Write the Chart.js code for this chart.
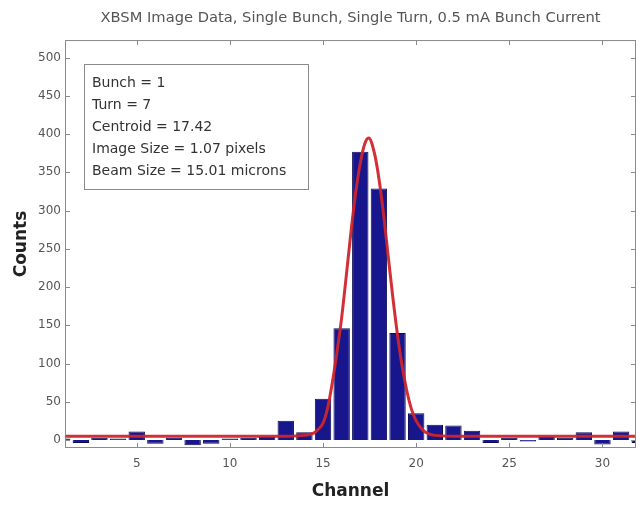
<!DOCTYPE html>
<html>
<head>
<meta charset="utf-8">
<script src="https://cdn.jsdelivr.net/npm/chart.js@4/dist/chart.umd.min.js"></script>
<style>
  html, body { margin: 0; padding: 0; background: #fff; overflow: hidden; }
  #wrap { width: 636px; height: 505px; position: relative; }
</style>
</head>
<body>
<div id="wrap"><canvas id="c" width="636" height="505"></canvas></div>
<script>
// Histogram of detector counts per channel
const channels = [1, 2, 3, 4, 5, 6, 7, 8, 9, 10, 11, 12, 13, 14, 15, 16,
                  17, 18, 19, 20, 21, 22, 23, 24, 25, 26, 27, 28, 29, 30, 31, 32];
const counts   = [2, -4, 3, 2, 11, -5, 3, -7, -5, 2, 3, 4, 25, 10, 54, 146,
                  377, 329, 140, 35, 20, 19, 12, -4, 3, -2, 4, 3, 10, -6, 11, -4];

// Gaussian fit curve samples
const fitChannels = [1, 13, 14, 14.5, 14.75, 15, 15.25, 15.5, 15.75, 16, 16.25, 16.5, 16.75,
                     17, 17.25, 17.45, 17.75, 18, 18.25, 18.5, 18.75, 19, 19.25, 19.5,
                     19.75, 20, 20.25, 20.5, 21, 22, 33];
const fitCounts   = [5, 5, 6, 9, 14, 22, 42, 75, 115, 160, 215, 272, 323,
                     362, 388, 395, 376, 342, 295, 240, 186, 137, 96, 64,
                     40, 25, 16, 10, 6, 5, 5];

const xTickValues = [5, 10, 15, 20, 25, 30];
const yTickValues = [0, 50, 100, 150, 200, 250, 300, 350, 400, 450, 500];

const titleText = 'XBSM Image Data, Single Bunch, Single Turn, 0.5 mA Bunch Current';
const xTitle = 'Channel';
const yTitle = 'Counts';
const infoLines = ['Bunch = 1', 'Turn = 7', 'Centroid = 17.42',
                   'Image Size = 1.07 pixels', 'Beam Size = 15.01 microns'];

const FONT = "'DejaVu Sans', 'Liberation Sans', sans-serif";

// Box frame with inward ticks on all four sides
const framePlugin = {
  id: 'frame',
  afterDatasetsDraw(chart) {
    const { ctx, chartArea: a, scales: { x, y } } = chart;
    ctx.save();
    ctx.strokeStyle = '#8a8a8a';
    ctx.lineWidth = 1;
    ctx.strokeRect(a.left + 0.5, a.top + 0.5, a.right - a.left - 1, a.bottom - a.top - 1);
    ctx.beginPath();
    const len = 5;
    xTickValues.forEach(v => {
      const px = Math.round(x.getPixelForValue(v)) + 0.5;
      ctx.moveTo(px, a.bottom); ctx.lineTo(px, a.bottom - len);
      ctx.moveTo(px, a.top); ctx.lineTo(px, a.top + len);
    });
    yTickValues.forEach(v => {
      const py = Math.round(y.getPixelForValue(v)) + 0.5;
      ctx.moveTo(a.left, py); ctx.lineTo(a.left + len, py);
      ctx.moveTo(a.right, py); ctx.lineTo(a.right - len, py);
    });
    ctx.stroke();
    ctx.restore();
  }
};

// Fit summary text box
const infoPlugin = {
  id: 'info',
  afterDraw(chart) {
    const { ctx } = chart;
    ctx.save();
    ctx.fillStyle = '#ffffff';
    ctx.fillRect(84, 64, 224, 125);
    ctx.strokeStyle = '#8a8a8a';
    ctx.lineWidth = 1;
    ctx.strokeRect(84.5, 64.5, 224, 125);
    ctx.fillStyle = '#333333';
    ctx.font = '14px ' + FONT;
    ctx.textBaseline = 'middle';
    ctx.textAlign = 'left';
    infoLines.forEach((t, i) => ctx.fillText(t, 92, 83 + i * 22.2));
    ctx.restore();
  }
};

new Chart(document.getElementById('c'), {
  data: {
    datasets: [
      {
        type: 'line',
        data: fitChannels.map((c, i) => ({ x: c, y: fitCounts[i] })),
        borderColor: 'rgba(208, 36, 44, 0.95)',
        borderWidth: 3,
        pointRadius: 0,
        cubicInterpolationMode: 'monotone',
        order: 0
      },
      {
        type: 'bar',
        data: channels.map((c, i) => ({ x: c, y: counts[i] })),
        backgroundColor: '#17168c',
        borderColor: '#0b0a55',
        borderWidth: 1,
        barPercentage: 0.88,
        categoryPercentage: 1,
        order: 1
      }
    ]
  },
  options: {
    responsive: false,
    animation: false,
    devicePixelRatio: 1,
    layout: { padding: { left: 0, right: 0, top: 0, bottom: 0 } },
    plugins: {
      legend: { display: false },
      tooltip: { enabled: false },
      title: {
        display: true,
        fullSize: false,
        text: titleText,
        color: '#555555',
        font: { family: FONT, size: 14.7, weight: 'normal' },
        padding: { top: 9, bottom: 13.4 }
      }
    },
    scales: {
      x: {
        type: 'linear',
        offset: false,
        min: 1.15,
        max: 31.8,
        grid: { display: false, drawTicks: false, offset: false },
        border: { display: false },
        afterBuildTicks: s => { s.ticks = xTickValues.map(v => ({ value: v })); },
        afterFit: s => { s.height = 57; },
        ticks: {
          color: '#555555',
          font: { family: FONT, size: 12 },
          padding: 9,
          maxRotation: 0
        },
        title: {
          display: true,
          text: xTitle,
          color: '#222222',
          font: { family: FONT, size: 17, weight: 'bold' },
          padding: { top: 0, bottom: 3 }
        }
      },
      y: {
        type: 'linear',
        min: -10.5,
        max: 523,
        grid: { display: false, drawTicks: false },
        border: { display: false },
        afterBuildTicks: s => { s.ticks = yTickValues.map(v => ({ value: v })); },
        afterFit: s => { s.width = 65; },
        ticks: {
          color: '#555555',
          font: { family: FONT, size: 12 },
          padding: 4
        },
        title: {
          display: true,
          text: yTitle,
          color: '#222222',
          font: { family: FONT, size: 17, weight: 'bold' },
          padding: { top: 11, bottom: 0 }
        }
      }
    }
  },
  plugins: [framePlugin, infoPlugin]
});
</script>
</body>
</html>
